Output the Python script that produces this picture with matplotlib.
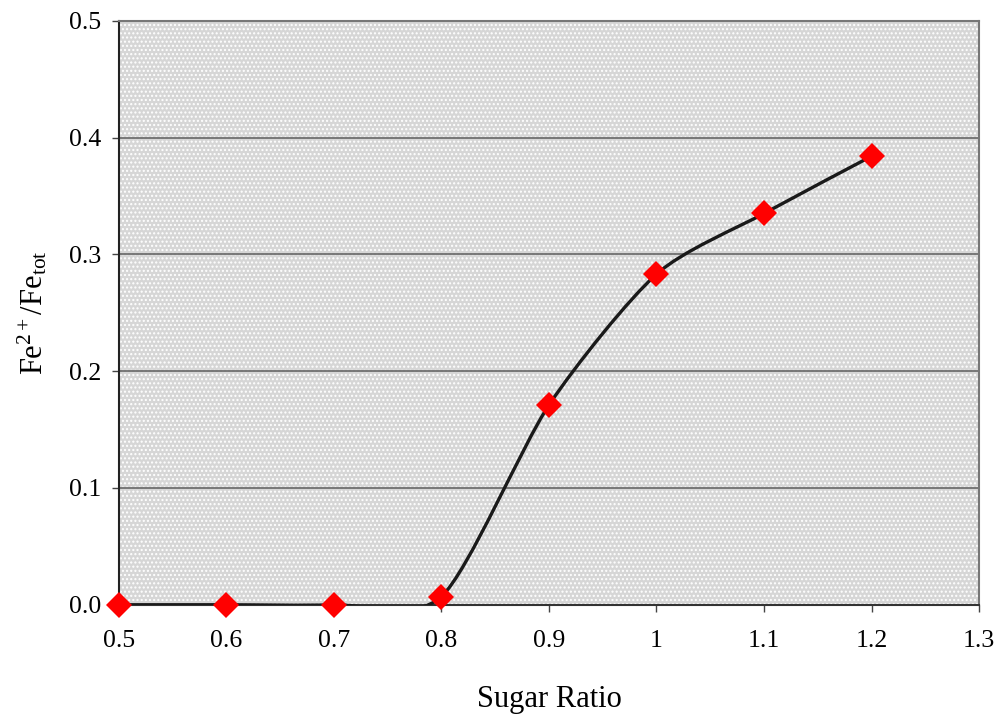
import matplotlib
matplotlib.use("Agg")
import matplotlib.pyplot as plt
from matplotlib.path import Path
from matplotlib.patches import PathPatch, Rectangle

# data
sugar_ratio = [0.5, 0.6, 0.7, 0.8, 0.9, 1.0, 1.1, 1.2]
fe_ratio = [0.0, 0.0, 0.0, 0.007, 0.171, 0.283, 0.335, 0.384]

x_ticks = [0.5, 0.6, 0.7, 0.8, 0.9, 1.0, 1.1, 1.2, 1.3]
x_tick_labels = ["0.5", "0.6", "0.7", "0.8", "0.9", "1", "1.1", "1.2", "1.3"]
y_ticks = [0.0, 0.1, 0.2, 0.3, 0.4, 0.5]
y_tick_labels = ["0.0", "0.1", "0.2", "0.3", "0.4", "0.5"]

plt.rcParams['font.family'] = ['Liberation Serif', 'DejaVu Serif']
plt.rcParams['mathtext.fontset'] = 'custom'
plt.rcParams['mathtext.rm'] = 'Liberation Serif'
plt.rcParams['mathtext.it'] = 'Liberation Serif'
plt.rcParams['hatch.color'] = 'white'
plt.rcParams['hatch.linewidth'] = 1.0


def smooth_path(xs, ys, k=1/8):
    # excel-like smoothed line: bezier segments with catmull-rom style tangents
    verts = [(xs[0], ys[0])]
    codes = [Path.MOVETO]
    n = len(xs)
    for i in range(n - 1):
        x0, y0 = xs[max(i - 1, 0)], ys[max(i - 1, 0)]
        x1, y1 = xs[i], ys[i]
        x2, y2 = xs[i + 1], ys[i + 1]
        x3, y3 = xs[min(i + 2, n - 1)], ys[min(i + 2, n - 1)]
        c1 = (x1 + (x2 - x0) * k, y1 + (y2 - y0) * k)
        c2 = (x2 - (x3 - x1) * k, y2 - (y3 - y1) * k)
        verts += [c1, c2, (x2, y2)]
        codes += [Path.CURVE4, Path.CURVE4, Path.CURVE4]
    return Path(verts, codes)


fig = plt.figure(figsize=(9.99, 7.14), dpi=100)
ax = fig.add_axes([0.119, 0.153, 0.861, 0.818])

ax.set_facecolor('#d6d6d6')
ax.add_patch(Rectangle((0, 0), 1, 1, transform=ax.transAxes, facecolor='none',
                       edgecolor='white', hatch='....', linewidth=0, zorder=0))

ax.set_xlim(0.5, 1.3)
ax.set_ylim(0.0, 0.5)

for y in y_ticks[1:-1]:
    ax.axhline(y, color='#6e6e6e', linewidth=1.3, zorder=1)

ax.add_patch(PathPatch(smooth_path(sugar_ratio, fe_ratio), facecolor='none',
                       edgecolor='#1a1a1a', linewidth=2.4, zorder=3))
ax.plot(sugar_ratio, fe_ratio, linestyle='none', marker='D', markersize=13.5,
        color='#ff0000', markeredgewidth=0, zorder=4, clip_on=False)

ax.set_xticks(x_ticks)
ax.set_xticklabels(x_tick_labels)
ax.set_yticks(y_ticks)
ax.set_yticklabels(y_tick_labels)
ax.tick_params(axis='both', labelsize=18.5, direction='out', length=5, width=1,
               color='#444444')
ax.tick_params(axis='x', pad=13)
ax.tick_params(axis='y', pad=8)

for side in ['top', 'right']:
    ax.spines[side].set_color('#777777')
    ax.spines[side].set_linewidth(1.5)
ax.spines['left'].set_color('#222222')
ax.spines['left'].set_linewidth(1.5)
ax.spines['bottom'].set_color('#333333')
ax.spines['bottom'].set_linewidth(1.5)

ax.set_xlabel('Sugar Ratio', fontsize=22, labelpad=24)
ax.set_ylabel(r'Fe$^{2+}$/Fe$_{\mathrm{tot}}$', fontsize=22, labelpad=14)

fig.savefig('out.png', dpi=100)
